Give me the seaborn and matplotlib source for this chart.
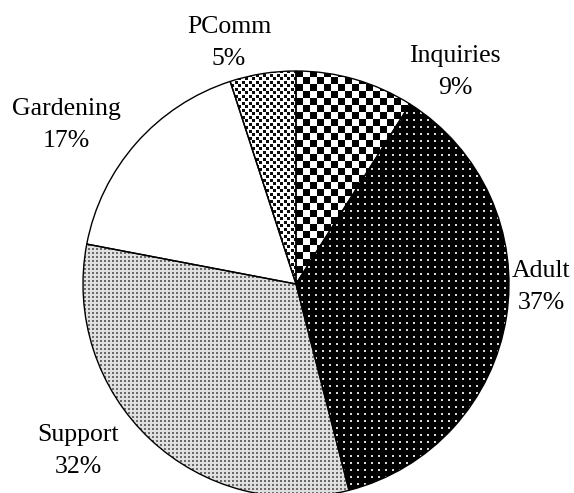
import numpy as np
import matplotlib
matplotlib.use("Agg")
import matplotlib.pyplot as plt
import seaborn as sns

# Share of requests by category (percent)
categories = ["Inquiries", "Adult", "Support", "Gardening", "PComm"]
shares = [9, 37, 32, 17, 5]

sns.set_theme(style="white")
plt.rcParams["font.family"] = ["Liberation Serif", "DejaVu Serif"]

W, H = 574, 493
fig = plt.figure(figsize=(W / 100, H / 100), dpi=100)
ax = fig.add_axes([0, 0, 1, 1])

# Pie geometry in pixel units (y measured from the bottom)
cx, cy, rad = 296, H - 284, 213

wedges, _ = ax.pie(
    shares,
    startangle=90,
    counterclock=False,
    center=(cx, cy),
    radius=rad,
    wedgeprops=dict(edgecolor="black", linewidth=1.0, facecolor="none"),
)

# Fill textures, one full-canvas bitmap per wedge
rows, cols = np.mgrid[0:H, 0:W]


def rgb(gray):
    g = np.asarray(gray, dtype=float)
    return np.dstack([g, g, g])


def checkerboard(cell=7):
    on = (((cols - cx) // cell + rows // cell) % 2) == 0
    return rgb(np.where(on, 0.0, 1.0))


def dark_dots(period=7, size=2):
    dot = ((cols % period) < size) & ((rows % period) < size)
    return rgb(np.where(dot, 0.85, 0.0))


def fine_stipple(period=4, size=2):
    dot = ((cols % period) < size) & ((rows % period) < size)
    return rgb(np.where(dot, 0.42, 0.88))


def staggered_dots(period=7, size=3):
    half = period // 2
    a = ((cols % period) < size) & ((rows % period) < size)
    b = (((cols + half) % period) < size) & (((rows + half) % period) < size)
    return rgb(np.where(a | b, 0.05, 1.0))


def plain_white():
    return rgb(np.ones((H, W)))


textures = [checkerboard(), dark_dots(), fine_stipple(), plain_white(), staggered_dots()]

for wedge, tex in zip(wedges, textures):
    im = ax.imshow(
        tex,
        extent=(0, W, 0, H),
        origin="upper",
        interpolation="none",
        zorder=0.5,
    )
    im.set_clip_path(wedge)
    wedge.set_zorder(2)

ax.set_xlim(0, W)
ax.set_ylim(0, H)
ax.set_aspect("auto")
ax.axis("off")

# Category labels: (center x, baseline of name, from the top)
label_pos = {
    "PComm": (229, 33),
    "Inquiries": (455, 62),
    "Gardening": (66, 115),
    "Adult": (541, 277),
    "Support": (78, 441),
}
line_gap = 32
fs = 18.5
for name, val in zip(categories, shares):
    x, yb = label_pos[name]
    ax.text(x, H - yb, name, ha="center", va="baseline", fontsize=fs, color="black", zorder=3)
    ax.text(x, H - (yb + line_gap), f"{val}%", ha="center", va="baseline", fontsize=fs,
            color="black", zorder=3)

fig.savefig("out.png", dpi=100, facecolor="white")
